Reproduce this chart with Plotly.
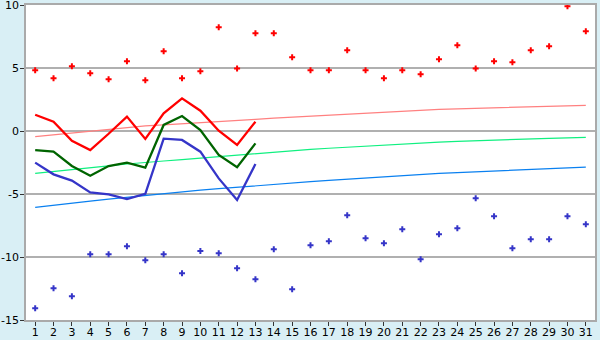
import plotly.graph_objects as go

days = list(range(1, 32))
y_ticks = [-15, -10, -5, 0, 5, 10]
y_tick_labels = ["-15", "-10", "-5", "0", "5", "10"]

hi_points = [4.82, 4.18, 5.13, 4.58, 4.10, 5.53, 4.02, 6.32, 4.18, 4.74,
             8.23, 4.97, 7.75, 7.75, 5.85, 4.82, 4.82, 6.40, 4.82, 4.18,
             4.82, 4.50, 5.69, 6.80, 4.97, 5.53, 5.45, 6.40, 6.72, 9.90, 7.91]
lo_points = [-14.07, -12.49, -13.12, -9.79, -9.79, -9.15, -10.26, -9.79, -11.29, -9.52,
             -9.71, -10.90, -11.77, -9.39, -12.56, -9.07, -8.75, -6.69, -8.52, -8.91,
             -7.80, -10.18, -8.20, -7.72, -5.34, -6.77, -9.31, -8.60, -8.60, -6.77, -7.40]

obs_days = list(range(1, 14))
max_line = [1.29, 0.74, -0.77, -1.51, -0.22, 1.14, -0.63, 1.40, 2.59, 1.61, 0.02, -1.11, 0.74]
mean_line = [-1.51, -1.64, -2.78, -3.55, -2.78, -2.51, -2.91, 0.48, 1.19, 0.08, -1.90, -2.88, -0.98]
min_line = [-2.51, -3.44, -3.94, -4.87, -5.03, -5.40, -4.98, -0.61, -0.71, -1.64, -3.76, -5.48, -2.62]

norm_max = [-0.45, -0.30, -0.15, -0.02, 0.12, 0.25, 0.40, 0.48, 0.58, 0.68,
            0.76, 0.85, 0.93, 1.02, 1.10, 1.18, 1.26, 1.33, 1.40, 1.47,
            1.55, 1.65, 1.72, 1.76, 1.80, 1.85, 1.88, 1.92, 1.96, 2.00, 2.04]
norm_mean = [-3.36, -3.20, -3.05, -2.90, -2.76, -2.62, -2.48, -2.38, -2.27, -2.15,
             -2.03, -1.90, -1.78, -1.66, -1.56, -1.46, -1.37, -1.28, -1.19, -1.10,
             -1.02, -0.95, -0.88, -0.82, -0.76, -0.71, -0.66, -0.62, -0.58, -0.54, -0.50]
norm_min = [-6.06, -5.88, -5.72, -5.56, -5.40, -5.25, -5.10, -4.96, -4.83, -4.70,
            -4.58, -4.46, -4.33, -4.22, -4.12, -4.02, -3.92, -3.82, -3.72, -3.63,
            -3.54, -3.45, -3.37, -3.30, -3.23, -3.16, -3.10, -3.04, -2.98, -2.92, -2.86]

fig = go.Figure()
fig.add_trace(go.Scatter(x=days, y=norm_max, mode="lines", line=dict(color="#ff8080", width=1.2)))
fig.add_trace(go.Scatter(x=days, y=norm_mean, mode="lines", line=dict(color="#10f080", width=1.2)))
fig.add_trace(go.Scatter(x=days, y=norm_min, mode="lines", line=dict(color="#0a80f0", width=1.2)))
fig.add_trace(go.Scatter(x=obs_days, y=max_line, mode="lines", line=dict(color="#ff0000", width=2.3)))
fig.add_trace(go.Scatter(x=obs_days, y=mean_line, mode="lines", line=dict(color="#006400", width=2.3)))
fig.add_trace(go.Scatter(x=obs_days, y=min_line, mode="lines", line=dict(color="#3535c8", width=2.3)))
fig.add_trace(go.Scatter(x=days, y=hi_points, mode="markers",
                         marker=dict(symbol="cross", size=5, color="#ff0000")))
fig.add_trace(go.Scatter(x=days, y=lo_points, mode="markers",
                         marker=dict(symbol="cross", size=5, color="#3535c8")))

fig.update_layout(
    width=600, height=340,
    margin=dict(l=26, r=5, t=5, b=20),
    paper_bgcolor="#d9eff5",
    plot_bgcolor="#ffffff",
    showlegend=False,
    font=dict(family="DejaVu Sans", size=11, color="#000000"),
)
fig.update_xaxes(range=[0.5, 31.5], tickvals=days, ticktext=[str(d) for d in days],
                 showgrid=False, zeroline=False, showline=True, linecolor="#aaaaaa",
                 linewidth=1.5, mirror=True, ticks="outside", ticklen=4, tickcolor="#333333",
                 automargin=False, ticklabeloverflow="allow", ticklabelstandoff=-3)
fig.update_yaxes(range=[-15, 10], tickvals=y_ticks, ticktext=y_tick_labels,
                 showgrid=True, gridcolor="#b0b0b0",
                 gridwidth=1.5, zeroline=False, showline=True, linecolor="#aaaaaa",
                 linewidth=1.5, mirror=True, ticks="outside", ticklen=4, tickcolor="#333333",
                 automargin=False, ticklabeloverflow="allow", ticklabelstandoff=-1)

fig.write_html("out.html")
